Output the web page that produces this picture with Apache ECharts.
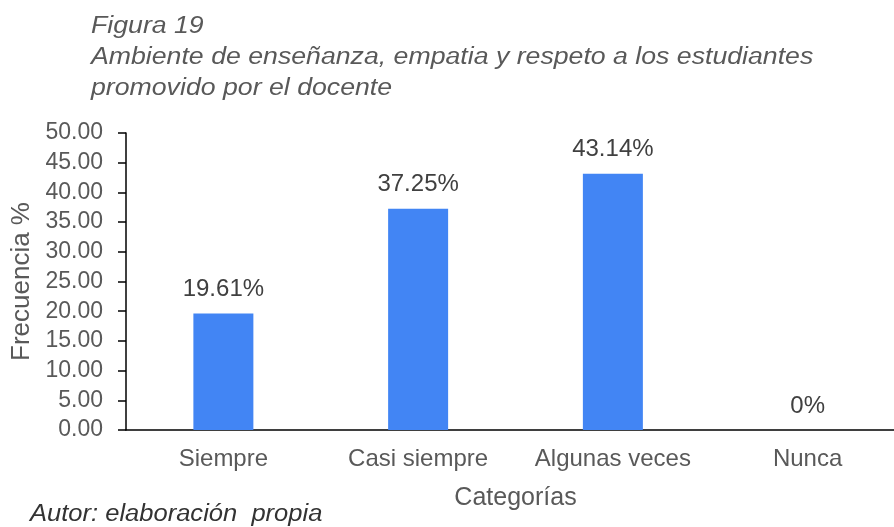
<!DOCTYPE html>
<html>
<head>
<meta charset="utf-8">
<script src="https://cdn.jsdelivr.net/npm/echarts@6/dist/echarts.min.js"></script>
<style>
  html, body { margin: 0; padding: 0; background: #fff; }
  #box { width: 894px; height: 527px; }
</style>
</head>
<body>
<div id="box"></div>
<script>
var categories = ['Siempre', 'Casi siempre', 'Algunas veces', 'Nunca']
var frecuencia = [19.61, 37.25, 43.14, 0]
var yTicks = { min: 0, max: 50, interval: 5 }
var titleLines = ['Figura 19', 'Ambiente de enseñanza, empatia y respeto a los estudiantes', 'promovido por el docente']
var footer = 'Autor: elaboración  propia'

var gray = '#595959'
var font = '"Liberation Sans", Arial, sans-serif'

var chart = echarts.init(document.getElementById('box'))

chart.setOption({
    animation: false,
    textStyle: { fontFamily: font },
    graphic: [{
        type: 'text',
        left: 91,
        top: 11,
        scaleX: 1.16,
        style: {
            text: titleLines.join('\n'),
            fill: gray,
            font: 'italic 23px ' + font,
            lineHeight: 31
        }
    }, {
        type: 'text',
        left: 30,
        top: 503,
        scaleX: 1.11,
        style: {
            text: footer,
            fill: '#333',
            font: 'italic 23px ' + font
        }
    }],
    grid: {
        left: 126,
        width: 779,
        top: 133,
        bottom: 97,
        outerBoundsMode: 'none'
    },
    xAxis: {
        type: 'category',
        data: categories,
        name: 'Categorías',
        nameLocation: 'middle',
        nameGap: 56,
        nameTextStyle: { color: gray, fontSize: 25 },
        axisLine: { lineStyle: { color: '#000', width: 1.5 } },
        axisTick: { show: false },
        axisLabel: { color: gray, fontSize: 24, margin: 17, interval: 0 }
    },
    yAxis: {
        type: 'value',
        min: yTicks.min,
        max: yTicks.max,
        interval: yTicks.interval,
        name: 'Frecuencia %',
        nameLocation: 'middle',
        nameGap: 90,
        nameTextStyle: { color: gray, fontSize: 26 },
        axisLine: { show: true, lineStyle: { color: '#000', width: 1.5 } },
        axisTick: { show: true, length: 8, lineStyle: { color: '#000', width: 1.5 } },
        splitLine: { show: false },
        axisLabel: {
            color: gray,
            fontSize: 23,
            margin: 23,
            formatter: function (v) { return v.toFixed(2) }
        }
    },
    series: [{
        type: 'bar',
        data: frecuencia,
        barWidth: 60,
        itemStyle: { color: '#4285F4' },
        label: {
            show: true,
            position: 'top',
            distance: 12,
            color: '#404040',
            fontSize: 24,
            formatter: function (p) { return p.value + '%' }
        }
    }]
})
</script>
</body>
</html>
